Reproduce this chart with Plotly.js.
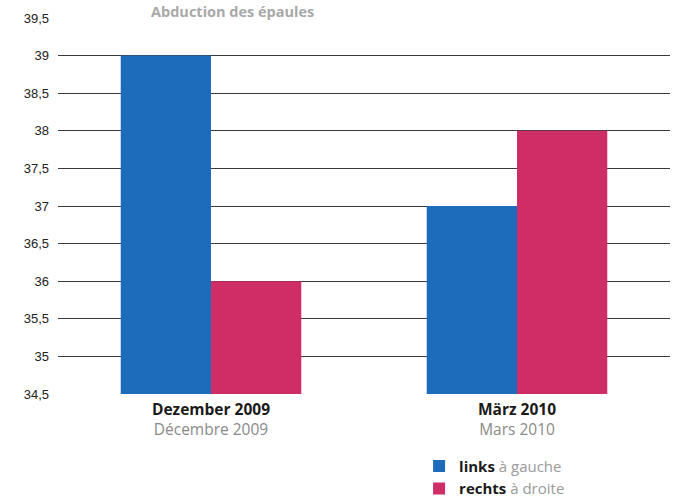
<!DOCTYPE html>
<html>
<head>
<meta charset="utf-8">
<script src="https://cdn.plot.ly/plotly-3.0.1.min.js"></script>
<style>html,body{margin:0;padding:0;background:#fff;}#chart{width:678px;height:497px;}</style>
</head>
<body>
<div id="chart"></div>
<script>
const categoriesDE = ["Dezember 2009", "März 2010"];
const categoriesFR = ["Décembre 2009", "Mars 2010"];
const linksValues = [39, 37];
const rechtsValues = [36, 38];
const yTickVals = [34.5, 35, 35.5, 36, 36.5, 37, 37.5, 38, 38.5, 39, 39.5];
const seriesNamesDE = ["links", "rechts"];
const seriesNamesFR = ["à gauche", "à droite"];
const chartTitle = "Abduction des épaules";
const yFloor = 34.5;

const catLabels = categoriesDE.map((d, i) =>
  "<b>" + d + "</b><br><span style='color:#8a8a8a'>" + categoriesFR[i] + "</span>");

const traces = [
  {type: "bar", x: categoriesDE, y: linksValues.map(v => v - yFloor), base: yFloor,
   name: "<b>" + seriesNamesDE[0] + "</b> <span style='color:#9a9a9a'>" + seriesNamesFR[0] + "</span>",
   marker: {color: "#1c6cbb", line: {width: 0}}, hoverinfo: "none"},
  {type: "bar", x: categoriesDE, y: rechtsValues.map(v => v - yFloor), base: yFloor,
   name: "<b>" + seriesNamesDE[1] + "</b> <span style='color:#9a9a9a'>" + seriesNamesFR[1] + "</span>",
   marker: {color: "#cf2d65", line: {width: 0}}, hoverinfo: "none"}
];

const layout = {
  width: 678, height: 497,
  margin: {l: 58, r: 8, t: 18, b: 103, autoexpand: false},
  paper_bgcolor: "#fff", plot_bgcolor: "#fff",
  barmode: "group", bargap: 0.41, bargroupgap: 0,
  separators: ",.",
  font: {family: "Liberation Sans, Arial, sans-serif", color: "#222"},
  xaxis: {
    type: "category", range: [-0.5, 1.5], automargin: false,
    tickvals: categoriesDE, ticktext: catLabels,
    tickfont: {family: "Open Sans, sans-serif", size: 15.5, color: "#1a1a1a"},
    showgrid: false, zeroline: false, showline: false, ticks: "",
    ticklabelstandoff: 4,
    fixedrange: true
  },
  yaxis: {
    range: [34.5, 39.5], tickvals: yTickVals, automargin: false,
    ticktext: yTickVals.map(v => String(v).replace(".", ",")),
    tickfont: {size: 13, color: "#222"},
    showgrid: true, gridcolor: "#3a3a3a", gridwidth: 1,
    zeroline: false, showline: false, ticks: "", ticklabelstandoff: 8,
    fixedrange: true
  },
  showlegend: true,
  legend: {
    x: 0.59, y: -0.148, xanchor: "left", yanchor: "top",
    font: {family: "Open Sans, sans-serif", size: 15, color: "#1a1a1a"},
    tracegroupgap: 0, itemwidth: 30, bgcolor: "rgba(0,0,0,0)"
  },
  annotations: [{
    text: "<b>" + chartTitle + "</b>", xref: "paper", yref: "paper",
    x: 0.285, y: 1, yshift: 18, xanchor: "center", yanchor: "top",
    showarrow: false, font: {family: "Open Sans, sans-serif", size: 14.5, color: "#a8a8a8"}
  }]
};

Plotly.newPlot("chart", traces, layout, {displayModeBar: false, staticPlot: true});
</script>
</body>
</html>
